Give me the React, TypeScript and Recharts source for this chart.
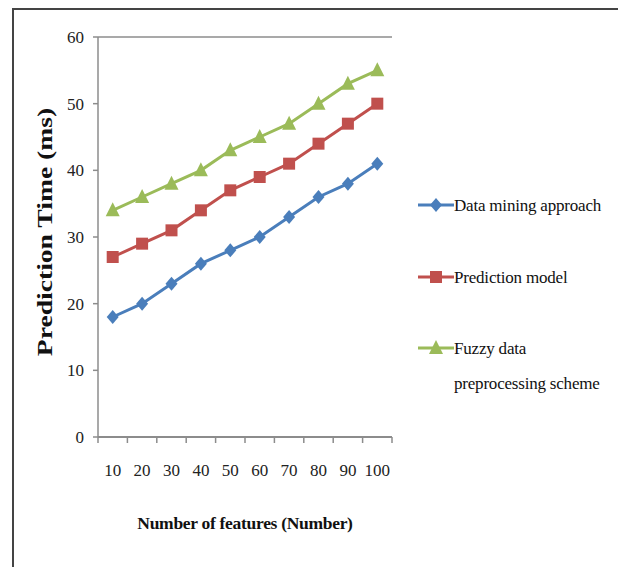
import React from "react";
import { LineChart, Line, XAxis, YAxis, ReferenceLine } from "recharts";

const features = ["10", "20", "30", "40", "50", "60", "70", "80", "90", "100"];
const dataMining = [18, 20, 23, 26, 28, 30, 33, 36, 38, 41];
const predictionModel = [27, 29, 31, 34, 37, 39, 41, 44, 47, 50];
const fuzzyScheme = [34, 36, 38, 40, 43, 45, 47, 50, 53, 55];
const yTicks = [0, 10, 20, 30, 40, 50, 60];

const data = features.map((f, i) => ({
  f,
  dm: dataMining[i],
  pm: predictionModel[i],
  fz: fuzzyScheme[i],
}));

const series = [
  { key: "dm", name: "Data mining approach", color: "#4a7ebb", shape: "diamond" },
  { key: "pm", name: "Prediction model", color: "#c0504d", shape: "square" },
  { key: "fz", name: "Fuzzy data preprocessing scheme", color: "#9bbb59", shape: "triangle" },
];

const FONT = "'Liberation Serif', 'Times New Roman', serif";
const AXIS = "#8c8c8c";

function Marker({ shape, cx, cy, color }: any) {
  if (cx == null || cy == null) return null;
  if (shape === "diamond")
    return <polygon points={`${cx},${cy - 7} ${cx + 6},${cy} ${cx},${cy + 7} ${cx - 6},${cy}`} fill={color} />;
  if (shape === "square")
    return <rect x={cx - 6} y={cy - 6} width={12} height={12} fill={color} />;
  return <polygon points={`${cx},${cy - 8} ${cx + 7},${cy + 6} ${cx - 7},${cy + 6}`} fill={color} />;
}

// category label centred in its band, tick marks on the band edges (Excel style)
function CategoryTick({ x, y, payload, index }: any) {
  const half = payload?.offset ?? 0;
  return (
    <g>
      <line x1={x - half} y1={y} x2={x - half} y2={y + 6} stroke={AXIS} strokeWidth={1.5} />
      {index === features.length - 1 && (
        <line x1={x + half} y1={y} x2={x + half} y2={y + 6} stroke={AXIS} strokeWidth={1.5} />
      )}
      <text x={x} y={y + 39} textAnchor="middle" fontFamily={FONT} fontSize={17} fill="#222">
        {payload.value}
      </text>
    </g>
  );
}

const LegendBox = () => (
  <div style={{ position: "absolute", left: 418, top: 188, fontFamily: FONT, fontSize: 17, color: "#111" }}>
    {series.map((s, i) => (
      <div
        key={s.key}
        style={{ position: "absolute", left: 0, top: [0, 72, 143][i], display: "flex", alignItems: "flex-start" }}
      >
        <svg width={36} height={20} style={{ marginTop: 7, flex: "none" }}>
          <line x1={0} y1={10} x2={36} y2={10} stroke={s.color} strokeWidth={3} />
          <Marker shape={s.shape} cx={18} cy={10} color={s.color} />
        </svg>
        <span style={{ width: 160, lineHeight: "35px", letterSpacing: -0.2 }}>{s.name}</span>
      </div>
    ))}
  </div>
);

export default function App() {
  return (
    <div style={{ position: "absolute", left: 0, top: 0, width: 618, height: 567, background: "#fff", overflow: "hidden" }}>
      <div
        style={{
          position: "absolute",
          left: 12,
          top: 8,
          width: 640,
          height: 600,
          borderLeft: "2px solid #444",
          borderTop: "2px solid #444",
        }}
      />
      <LineChart
        width={618}
        height={567}
        data={data}
        margin={{ top: 37, right: 226, bottom: 100, left: 58 }}
        style={{ position: "absolute", left: 0, top: 0 }}
      >
        <XAxis
          dataKey="f"
          scale="band"
          axisLine={{ stroke: AXIS, strokeWidth: 2 }}
          tickLine={false}
          tickSize={0}
          tickMargin={0}
          height={30}
          tick={<CategoryTick />}
          interval={0}
        />
        <YAxis
          domain={[0, 60]}
          ticks={yTicks}
          width={40}
          axisLine={{ stroke: AXIS, strokeWidth: 1.5 }}
          tickLine={{ stroke: AXIS, strokeWidth: 1.5 }}
          tickSize={5}
          tickMargin={9}
          tick={{ fontFamily: FONT, fontSize: 17, fill: "#222" }}
        />
        <YAxis yAxisId="r" orientation="right" width={0} tick={false} tickLine={false} axisLine={{ stroke: AXIS, strokeWidth: 1.5 }} />
        <ReferenceLine y={60} stroke={AXIS} strokeWidth={1.5} />
        {series.map((s) => (
          <Line
            key={s.key}
            dataKey={s.key}
            name={s.name}
            stroke={s.color}
            strokeWidth={3}
            isAnimationActive={false}
            dot={(p: any) => <Marker key={`${s.key}-${p.index}`} shape={s.shape} cx={p.cx} cy={p.cy} color={s.color} />}
            activeDot={false}
          />
        ))}
      </LineChart>
      <LegendBox />
      <div
        style={{
          position: "absolute",
          left: 45,
          top: 232,
          transform: "translate(-50%, -50%) rotate(-90deg) scaleX(1.38)",
          whiteSpace: "nowrap",
          fontFamily: FONT,
          fontWeight: "bold",
          fontSize: 20,
          lineHeight: "20px",
          color: "#111",
        }}
      >
        Prediction Time (ms)
      </div>
      <div
        style={{
          position: "absolute",
          left: 245,
          top: 523,
          transform: "translate(-50%, -50%)",
          whiteSpace: "nowrap",
          fontFamily: FONT,
          fontWeight: "bold",
          fontSize: 17.5,
          color: "#111",
          letterSpacing: -0.3,
        }}
      >
        Number of features (Number)
      </div>
    </div>
  );
}
